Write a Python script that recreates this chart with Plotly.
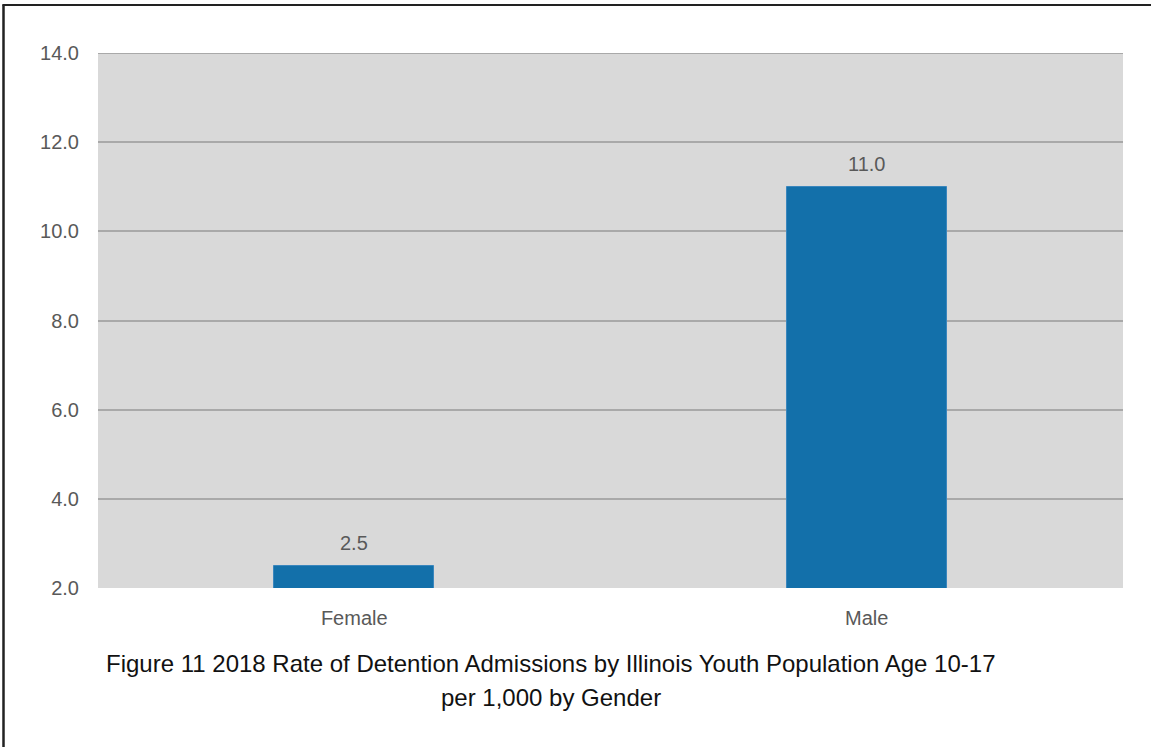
import plotly.graph_objects as go

# Detention admission rates per 1,000 youth (age 10-17), 2018
genders = ["Female", "Male"]
rates = [2.5, 11.0]
y_ticks = [2, 4, 6, 8, 10, 12, 14]

title_line1 = "Figure 11 2018 Rate of Detention Admissions by Illinois Youth Population Age 10-17"
title_line2 = "per 1,000 by Gender"

W, H = 1151, 747
L, R, T, B = 98, 28, 53, 159
plot_w = W - L - R
plot_h = H - T - B

FONT = "Liberation Sans Narrow, Arial Narrow, Liberation Sans, Arial, sans-serif"
TICK_GRAY = "#595959"
GRID_GRAY = "#a9a9a9"

fig = go.Figure()
fig.add_trace(go.Bar(
    x=genders,
    y=rates,
    width=0.312,
    marker=dict(color="#1370aa", line=dict(color="#3a86bd", width=1)),
    hoverinfo="skip",
))

# value labels above each bar
for g, v in zip(genders, rates):
    fig.add_annotation(
        x=g, y=v, text=f"{v:.1f}", showarrow=False,
        yshift=23, font=dict(family=FONT, size=20, color=TICK_GRAY),
    )

# gridline at the top of the value range (on the plot edge)
fig.add_shape(type="line", xref="paper", yref="y", x0=0, x1=1,
              y0=y_ticks[-1], y1=y_ticks[-1], layer="below",
              line=dict(color=GRID_GRAY, width=2))

# figure caption below the plot
fig.add_annotation(
    xref="paper", yref="paper", x=(551 - L) / plot_w, y=-(663 - (T + plot_h)) / plot_h,
    text=title_line1, showarrow=False, xanchor="center", yanchor="middle",
    font=dict(family=FONT, size=24, color="#111111"),
)
fig.add_annotation(
    xref="paper", yref="paper", x=(551 - L) / plot_w, y=-(697 - (T + plot_h)) / plot_h,
    text=title_line2, showarrow=False, xanchor="center", yanchor="middle",
    font=dict(family=FONT, size=24, color="#111111"),
)

# frame lines on the left and top edges
fig.add_shape(type="line", xref="paper", yref="paper",
              x0=(3.5 - L) / plot_w, x1=(3.5 - L) / plot_w,
              y0=-(H - T - plot_h + 5) / plot_h, y1=(T + plot_h - 4.5) / plot_h,
              line=dict(color="#222222", width=2.5))
fig.add_shape(type="line", xref="paper", yref="paper",
              x0=(2.5 - L) / plot_w, x1=(W + 5 - L) / plot_w,
              y0=(T + plot_h - 5) / plot_h, y1=(T + plot_h - 5) / plot_h,
              line=dict(color="#222222", width=2))

fig.update_layout(
    width=W, height=H,
    margin=dict(l=L, r=R, t=T, b=B, autoexpand=False),
    paper_bgcolor="white",
    plot_bgcolor="#d9d9d9",
    showlegend=False,
    bargap=0,
    font=dict(family=FONT, size=20, color=TICK_GRAY),
)
fig.update_xaxes(
    showgrid=False, zeroline=False, showline=False, ticks="",
    tickfont=dict(family=FONT, size=20, color=TICK_GRAY),
    ticklabelstandoff=16,
)
fig.update_yaxes(
    range=[2, 14], tickvals=y_ticks, tickformat=".1f",
    showgrid=True, gridcolor=GRID_GRAY, gridwidth=2,
    zeroline=False, showline=False, ticks="",
    tickfont=dict(family=FONT, size=20, color=TICK_GRAY),
    ticklabelstandoff=18,
)

fig.write_html("out.html")
